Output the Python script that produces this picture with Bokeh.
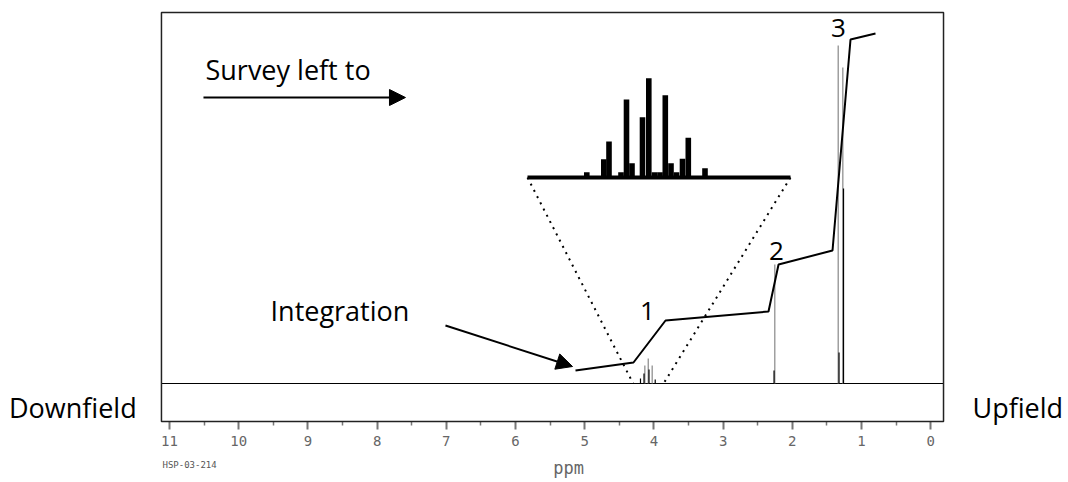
from bokeh.plotting import figure
from bokeh.models import (Range1d, FixedTicker, Label, Arrow, NormalHead,
                          BoxAnnotation)
from bokeh.embed import file_html
from bokeh.resources import INLINE

# ---------------- data ----------------
# stick spectrum (ppm, relative height)
peaks_ppm = [4.131, 4.082, 4.025, 2.253, 1.337, 1.270]
peaks_height = [18, 25, 18, 119, 338, 316]
fine_ppm = [4.194, 4.143, 4.071, 3.981, 2.264, 1.325, 1.260]
fine_height = [5, 10, 14, 4, 13, 31, 195]

# integration trace
integ_ppm = [5.133, 4.295, 3.832, 2.344, 2.199, 1.419, 1.159, 0.798]
integ_value = [13, 21, 63, 72, 119, 133, 344, 350]

# integration step labels
step_labels = ["1", "2", "3"]
step_ppm = [4.092, 2.228, 1.332]
step_value = [73, 133, 356]

# expanded quartet (inset units)
inset_x = [59.3, 76.3, 81.5, 93.5, 99.0, 104.5, 115.0, 121.3, 127.0, 132.5,
           137.8, 143.5, 149.0, 155.0, 160.8, 177.5]
inset_h = [5.3, 18.3, 36.0, 5.3, 78.0, 14.3, 60.3, 99.3, 5.3, 5.3,
           82.3, 14.3, 5.3, 18.7, 39.7, 9.3]
inset_span = [0, 263]
zoom_window_ppm = [4.30, 3.86]

# axis ticks
major_ticks = [0, 1, 2, 3, 4, 5, 6, 7, 8, 9, 10, 11]
minor_ticks = [0.5, 1.5, 2.5, 3.5, 4.5, 5.5, 6.5, 7.5, 8.5, 9.5, 10.5]

# spectrum box limits (ppm / intensity)
BOX_LEFT, BOX_RIGHT, BOX_TOP, BOX_BOTTOM = 11.116, -0.185, 371, -38

FONT = "Open Sans"
TICKFONT = "DejaVu Sans Mono"

p = figure(width=1068, height=482, output_backend="svg", toolbar_location=None,
           x_range=Range1d(13.442, -1.991), y_range=Range1d(-99, 383),
           y_axis_location=None, min_border=0,
           min_border_left=0, min_border_right=0, min_border_top=0,
           min_border_bottom=0)
p.grid.visible = False
p.outline_line_color = None
p.background_fill_color = "white"
p.border_fill_color = "white"

ax = p.xaxis[0]
ax.fixed_location = BOX_BOTTOM
ax.ticker = FixedTicker(ticks=major_ticks, minor_ticks=minor_ticks)
ax.axis_line_color = None
ax.major_tick_out = 8
ax.major_tick_in = 0
ax.minor_tick_out = 4
ax.minor_tick_in = 0
ax.major_tick_line_color = "#777777"
ax.minor_tick_line_color = "#777777"
ax.major_tick_line_width = 2
ax.minor_tick_line_width = 1.5
ax.major_label_text_font = TICKFONT
ax.major_label_text_font_size = "14px"
ax.major_label_text_color = "#666666"
ax.major_label_standoff = 6

# spectrum box
p.add_layout(BoxAnnotation(left=BOX_LEFT, right=BOX_RIGHT, top=BOX_TOP,
                           bottom=BOX_BOTTOM, fill_color=None, fill_alpha=0,
                           line_color="#222222", line_alpha=1.0, line_width=1.5))

# baseline
p.segment(x0=[BOX_LEFT], y0=[0], x1=[BOX_RIGHT], y1=[0], line_color="black",
          line_width=1)

# peaks
p.segment(x0=peaks_ppm, y0=[0] * len(peaks_ppm), x1=peaks_ppm, y1=peaks_height,
          line_color="#888888", line_width=1.2)
p.segment(x0=fine_ppm, y0=[0] * len(fine_ppm), x1=fine_ppm, y1=fine_height,
          line_color="black", line_width=1.2)

# integration curve
p.line(integ_ppm, integ_value, line_color="black", line_width=2)

for t, xx, yy in zip(step_labels, step_ppm, step_value):
    p.add_layout(Label(x=xx, y=yy, text=t, text_font=FONT, text_font_size="26px",
                       text_align="center", text_baseline="middle", text_color="black"))

# inset
p.extra_x_ranges = {"ix": Range1d(-527, 541)}
p.extra_y_ranges = {"iy": Range1d(-305, 177)}
p.vbar(x=inset_x, width=5.6, bottom=0, top=inset_h, fill_color="black",
       line_color=None, x_range_name="ix", y_range_name="iy")
p.line(x=inset_span, y=[0, 0], line_color="black", line_width=4,
       x_range_name="ix", y_range_name="iy")


def ppm_to_inset_x(v):
    xr = p.x_range
    frac = (v - xr.start) / (xr.end - xr.start)
    ir = p.extra_x_ranges["ix"]
    return ir.start + frac * (ir.end - ir.start)


def main_y_to_inset_y(v):
    yr = p.y_range
    frac = (v - yr.start) / (yr.end - yr.start)
    ir = p.extra_y_ranges["iy"]
    return ir.start + frac * (ir.end - ir.start)


for ex, wp in zip(inset_span, zoom_window_ppm):
    p.line(x=[ex, ppm_to_inset_x(wp)], y=[0, main_y_to_inset_y(0)],
           line_color="black", line_width=2, line_dash="2 5",
           x_range_name="ix", y_range_name="iy")

# annotations
p.add_layout(Label(x=10.48, y=314, text="Survey left to", text_font=FONT,
                   text_font_size="27px", text_baseline="middle", text_color="black"))
p.add_layout(Arrow(x_start=10.509, y_start=286, x_end=7.59, y_end=286,
                   line_width=2, line_color="black",
                   end=NormalHead(size=16, fill_color="black", line_color="black")))
p.add_layout(Label(x=9.54, y=73, text="Integration", text_font=FONT,
                   text_font_size="27px", text_baseline="middle", text_color="black"))
p.add_layout(Arrow(x_start=7.012, y_start=58, x_end=5.176, y_end=17,
                   line_width=2, line_color="black",
                   end=NormalHead(size=16, fill_color="black", line_color="black")))

p.add_layout(Label(x=13.32, y=-24, text="Downfield", text_font=FONT,
                   text_font_size="27px", text_baseline="middle", text_color="black"))
p.add_layout(Label(x=-0.604, y=-24, text="Upfield", text_font=FONT,
                   text_font_size="27px", text_baseline="middle", text_color="black"))
p.add_layout(Label(x=5.234, y=-84, text="ppm", text_font=TICKFONT,
                   text_font_size="17px", text_align="center",
                   text_baseline="middle", text_color="#666666"))
p.add_layout(Label(x=11.101, y=-81, text="HSP-03-214", text_font=TICKFONT,
                   text_font_size="9px", text_baseline="middle", text_color="#555555"))

open("out.html", "w").write(file_html(p, INLINE))
